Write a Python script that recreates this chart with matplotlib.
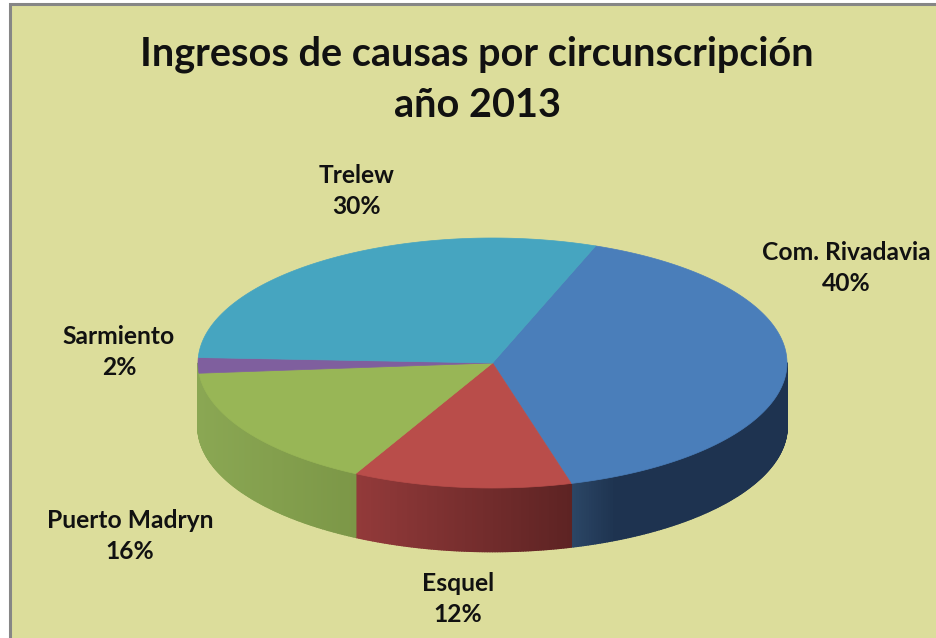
"""Ingresos de causas por circunscripcion: pie con efecto 3D."""
import matplotlib
matplotlib.use("Agg")
import matplotlib.pyplot as plt
import numpy as np
from matplotlib.collections import PolyCollection
from matplotlib.colors import to_rgb
from matplotlib.patches import Polygon, Rectangle

categories = ["Com. Rivadavia", "Esquel", "Puerto Madryn", "Sarmiento", "Trelew"]
values = [40, 12, 16, 2, 30]
top_colors = ["#4a7eba", "#b94d4a", "#98b656", "#7f5f9e", "#46a5c0"]
side_left = ["#2c4766", "#933a3a", "#8aa753", "#8aa753", "#33788c"]
side_right = ["#1e3350", "#5d2323", "#7c9747", "#8aa753", "#33788c"]
label_pos = [(846, 268), (458, 599), (130, 536), (119, 352), (357, 191)]

title = "Ingresos de causas por circunscripción\naño 2013"
BG = "#dcdd9b"
FONT = "Lato"

CX, CY, RX, RY = 492.5, 363, 294.5, 125
DEPTH = 63.5
START = 69.5  # angle of the first slice edge, going clockwise


def rim(t_deg):
    t = np.radians(t_deg)
    return CX + RX * np.cos(t), CY - RY * np.sin(t)


fig = plt.figure(figsize=(9.36, 6.38), dpi=100, facecolor="white")
ax = fig.add_axes([0, 0, 1, 1])
ax.set_xlim(0, 936)
ax.set_ylim(638, 0)
ax.axis("off")

ax.add_patch(Rectangle((9.5, 4), 940, 650, facecolor=BG, edgecolor="#868686", lw=2.2))

# slice edges in degrees, from the values
edges = START - np.cumsum([0] + values) * 360 / sum(values)

# side wall first, only the front half of the rim shows
for i in range(len(values)):
    ts = np.arange(edges[i], edges[i + 1] - 0.25, -0.5)
    ts = np.append(ts, edges[i + 1])
    ts = ts[np.sin(np.radians(ts)) <= 0]
    if len(ts) < 2:
        continue
    c0, c1 = np.array(to_rgb(side_left[i])), np.array(to_rgb(side_right[i]))
    xs_rim = rim(ts)[0]
    xa, xb = xs_rim.min(), xs_rim.max()
    quads, cols = [], []
    for t0, t1 in zip(ts[:-1], ts[1:]):
        x0, y0 = rim(t0)
        x1, y1 = rim(t1)
        quads.append([(x0, y0), (x1, y1), (x1, y1 + DEPTH), (x0, y0 + DEPTH)])
        f = ((x0 + x1) / 2 - xa) / max(xb - xa, 1)
        # blue goes dark quickly, then stays flat
        if i == 0:
            f = min(f * 5, 1)
        cols.append(c0 + (c1 - c0) * f)
    ax.add_collection(PolyCollection(quads, facecolors=cols, edgecolors=cols, lw=1.2))

# top face
for i in range(len(values)):
    ts = np.linspace(edges[i], edges[i + 1], 200)
    xs, ys = rim(ts)
    pts = np.column_stack([np.r_[CX, xs], np.r_[CY, ys]])
    ax.add_patch(Polygon(pts, closed=True, facecolor=top_colors[i],
                         edgecolor=top_colors[i], lw=0.5))

for name, val, (x, y) in zip(categories, values, label_pos):
    ax.text(x, y, f"{name}\n{val}%", ha="center", va="center", fontsize=17.7,
            fontweight="bold", family=FONT, color="#111111", linespacing=1.4)

ax.text(477, 80, title, ha="center", va="center", fontsize=28.5,
        fontweight="bold", family=FONT, color="#111111", linespacing=1.46)

fig.savefig("out.png", dpi=100, facecolor=fig.get_facecolor())
